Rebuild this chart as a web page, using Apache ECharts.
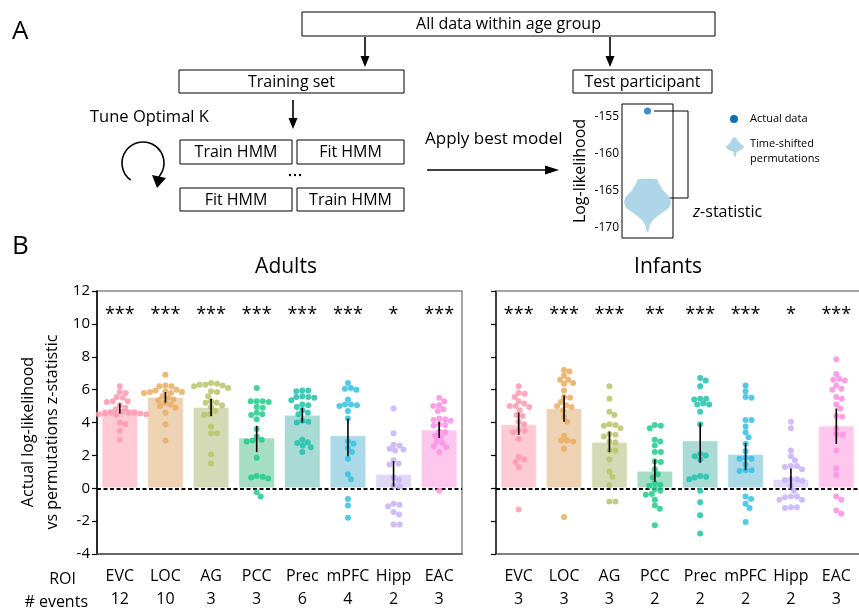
<!DOCTYPE html>
<html>
<head>
<meta charset="utf-8">
<script src="https://cdn.jsdelivr.net/npm/echarts@6/dist/echarts.min.js"></script>
<style>html,body{margin:0;padding:0;background:#fff}#c{width:859px;height:611px}</style>
</head>
<body>
<div id="c"></div>
<script>
// ---------------- DATA ----------------
const rois = ['EVC', 'LOC', 'AG', 'PCC', 'Prec', 'mPFC', 'Hipp', 'EAC'];
const eventsAdults = [12, 10, 3, 3, 6, 4, 2, 3];
const eventsInfants = [3, 3, 3, 2, 2, 2, 2, 3];
const starsAdults = ['***', '***', '***', '***', '***', '***', '*', '***'];
const starsInfants = ['***', '***', '***', '**', '***', '***', '*', '***'];

const meanAdults = [4.85, 5.55, 4.95, 3.08, 4.47, 3.22, 0.86, 3.57];
const meanInfants = [3.89, 4.87, 2.81, 1.06, 2.91, 2.08, 0.56, 3.81];

const errAdults = [[4.55, 5.15], [5.2, 5.85], [4.4, 5.45], [2.2, 3.8], [4.0, 4.9], [1.95, 4.25], [0.1, 1.65], [3.05, 4.05]];
const errInfants = [[3.25, 4.6], [4.05, 5.65], [2.2, 3.45], [0.4, 1.75], [1.55, 3.95], [1.1, 2.75], [0.0, 1.2], [2.7, 4.85]];

const dotsAdults = [
  [6.2, 5.85, 5.8, 5.55, 5.5, 5.3, 5.25, 5.3, 5.05, 4.9, 4.8, 4.65, 4.6, 4.6, 4.55, 4.55, 4.5, 4.45, 4.6, 4.5, 4.0, 3.9, 3.5, 2.95],
  [6.9, 6.25, 6.2, 6.2, 6.0, 5.95, 5.9, 5.85, 5.85, 5.8, 5.8, 5.6, 5.5, 5.4, 5.35, 5.2, 5.1, 5.0, 4.9, 4.6, 3.9, 2.9],
  [6.4, 6.35, 6.3, 6.25, 6.3, 6.2, 6.1, 5.9, 5.85, 5.6, 5.3, 5.2, 5.2, 5.05, 4.95, 4.7, 4.5, 4.45, 3.75, 3.35, 3.35, 2.05, 1.5],
  [6.1, 5.3, 5.3, 5.25, 5.3, 4.95, 4.9, 4.6, 4.5, 4.45, 4.2, 3.6, 3.15, 2.95, 2.9, 2.85, 1.85, 0.65, 0.6, 0.7, 0.75, -0.25, -0.5],
  [5.95, 5.95, 5.9, 5.6, 5.55, 5.55, 5.5, 5.35, 5.1, 5.05, 4.95, 4.75, 4.6, 4.5, 4.1, 4.05, 4.0, 2.95, 2.8, 2.75, 2.6, 2.5, 2.2],
  [6.4, 6.1, 6.05, 6.0, 5.4, 5.1, 5.1, 5.05, 5.0, 4.7, 4.25, 2.85, 2.7, 2.45, 2.2, 1.8, 0.85, 0.55, -0.65, -1.05, -1.8],
  [4.85, 3.35, 2.65, 2.6, 2.4, 2.35, 2.3, 1.7, 1.5, 1.45, 0.65, 0.5, 0.15, 0.1, -0.95, -1.0, -1.1, -1.45, -1.6, -2.2, -2.2],
  [5.5, 5.3, 5.05, 5.0, 4.8, 4.7, 4.25, 4.2, 4.15, 4.1, 3.9, 3.85, 3.8, 3.45, 3.4, 3.2, 3.1, 2.85, 2.75, 2.55, 2.5, 2.2, -0.15]
];
const dotsInfants = [
  [6.2, 5.8, 5.75, 5.55, 5.3, 5.15, 5.0, 5.0, 4.95, 4.75, 4.45, 4.4, 4.05, 3.9, 3.55, 3.5, 3.4, 3.0, 1.9, 1.75, 1.6, 1.3, -1.3],
  [7.2, 7.1, 6.85, 6.6, 6.6, 6.4, 6.35, 5.95, 5.55, 5.5, 5.25, 5.05, 5.0, 4.95, 4.75, 4.35, 4.05, 3.2, 2.9, 2.85, 2.9, 2.4, -1.75],
  [6.2, 5.45, 4.65, 4.45, 3.9, 3.85, 3.8, 3.65, 3.3, 3.25, 3.15, 2.85, 2.8, 2.3, 2.3, 1.75, 1.0, 0.7, 0.2, -0.8, -0.8],
  [3.85, 3.8, 3.65, 2.95, 2.85, 2.6, 2.2, 2.2, 1.65, 1.6, 1.15, 0.85, 0.65, 0.3, 0.2, 0.15, -0.05, -0.15, -0.35, -0.4, -0.7, -1.05, -1.25, -2.25],
  [6.7, 6.55, 6.2, 5.45, 5.45, 5.4, 5.15, 5.1, 5.1, 4.65, 3.9, 2.1, 2.0, 1.95, 1.75, 0.75, 0.7, 0.65, 0.55, -0.15, -0.85, -1.65, -2.75],
  [6.25, 5.9, 5.55, 5.5, 4.15, 4.15, 3.75, 3.4, 3.1, 2.7, 2.25, 1.85, 1.8, 1.8, 1.45, 1.1, 1.1, 1.05, -0.5, -0.65, -0.95, -1.2, -2.05],
  [4.05, 3.65, 2.3, 1.95, 1.7, 1.35, 1.35, 1.3, 1.15, 0.55, 0.55, 0.5, 0.45, 0.15, -0.15, -0.5, -0.5, -0.55, -0.7, -0.7, -1.15, -1.15, -1.2],
  [7.85, 6.95, 6.65, 6.6, 6.55, 6.25, 6.05, 6.0, 5.55, 5.45, 5.1, 4.85, 4.4, 4.35, 3.65, 3.3, 3.25, 2.3, 1.2, 0.8, -0.5, -0.7, -1.35, -1.55]
];

// Panel A violin (test participant)
const violinLL = [-163.42, -163.78, -164.3, -164.86, -165.4, -165.99, -166.66, -167.34, -168.01, -168.47, -168.92, -169.59, -170.5];
const violinDensity = [0.37, 0.42, 0.5, 0.6, 0.75, 0.88, 0.91, 0.82, 0.55, 0.37, 0.22, 0.09, 0.03];
const actualLL = -154.2;
const llTicks = [-155, -160, -165, -170];

// ---------------- STYLE ----------------
const barColors = ['#FFCAD4', '#EDD3B4', '#D4DAB6', '#A5DDC5', '#AADAD6', '#ABD9E8', '#E0D7F7', '#FFC7EE'];
const dotColors = ['#FF99AF', '#EAAC60', '#B8C46A', '#1FCB8B', '#1FC2AD', '#33C1E1', '#C6B1F7', '#FF8FE3'];
const FONT = '"Open Sans", sans-serif';

const chart = echarts.init(document.getElementById('c'), null, {renderer: 'canvas'});

function swarm(dots) {
  return function (params, api) {
    const i = api.value(0);
    const vals = dots[i];
    const cx = api.coord([i, 0])[0];
    const ys = vals.map(v => api.coord([i, v])[1]).sort((a, b) => a - b);
    const d = 5.7, r = 3.0;
    const placed = [];
    const kids = [];
    ys.forEach(y => {
      let off = 0;
      for (let k = 0; k < 400; k++) {
        const cand = k === 0 ? 0 : (k % 2 ? 1 : -1) * Math.ceil(k / 2) * 0.5;
        let ok = true;
        for (const p of placed) {
          const dx = p[0] - cand, dy = p[1] - y;
          if (dx * dx + dy * dy < d * d - 0.01) { ok = false; break; }
        }
        if (ok) { off = cand; break; }
      }
      placed.push([off, y]);
      kids.push({type: 'circle', shape: {cx: cx + off, cy: y, r: r},
        style: {fill: dotColors[i], opacity: 0.85}});
    });
    return {type: 'group', children: kids};
  };
}
function errRender(errs) {
  return function (params, api) {
    const i = api.value(0);
    const a = api.coord([i, errs[i][0]]);
    const b = api.coord([i, errs[i][1]]);
    return {type: 'line', shape: {x1: a[0], y1: a[1], x2: b[0], y2: b[1]},
      style: {stroke: '#000', lineWidth: 1.6}};
  };
}
function starRender(stars) {
  return function (params, api) {
    const i = api.value(0);
    const p = api.coord([i, 10.55]);
    return {type: 'text', x: p[0], y: p[1],
      style: {text: stars[i], font: '18px ' + FONT, fill: '#000', align: 'center', verticalAlign: 'middle'}};
  };
}
function violinRender(params, api) {
  const right = violinLL.map((y, k) => api.coord([violinDensity[k], y]));
  const left = violinLL.map((y, k) => api.coord([-violinDensity[k], y])).reverse();
  return {type: 'polygon', shape: {points: right.concat(left), smooth: 0.25},
    style: {fill: '#AED6E8'}};
}

const idx = rois.map((_, i) => i);

function panelSeries(p, means, dots, errs, stars) {
  return [
    {type: 'bar', xAxisIndex: p, yAxisIndex: p, barWidth: '80%', z: 2,
      data: means.map((v, i) => ({value: v, itemStyle: {color: barColors[i], borderColor: 'rgba(255,255,255,0.5)', borderWidth: 1}})),
      markLine: {silent: true, symbol: ['none', 'none'], label: {show: false},
        lineStyle: {type: [4, 2.5], color: '#000', width: 2}, data: [{yAxis: 0}], z: 3}},
    {type: 'custom', xAxisIndex: p, yAxisIndex: p, z: 4, renderItem: swarm(dots), data: idx.map(i => [i])},
    {type: 'custom', xAxisIndex: p, yAxisIndex: p, z: 5, renderItem: errRender(errs), data: idx.map(i => [i])},
    {type: 'custom', xAxisIndex: p, yAxisIndex: p, z: 5, renderItem: starRender(stars), data: idx.map(i => [i])}
  ];
}

function xCat(p, events) {
  return {type: 'category', gridIndex: p, data: rois,
    axisLine: {onZero: false, lineStyle: {color: '#555', width: 1.5}},
    axisTick: {show: false},
    axisLabel: {interval: 0, margin: 11, fontSize: 16, fontFamily: FONT, color: '#000', lineHeight: 23,
      formatter: (v, i) => v + '\n' + events[i]}};
}
function yVal(p, showLabels) {
  return {type: 'value', gridIndex: p, min: -4, max: 12, interval: 2,
    axisLine: {show: true, lineStyle: {color: '#000', width: 1.5}},
    axisTick: {show: true, length: 5, lineStyle: {color: '#000', width: 1.2}},
    axisLabel: {show: showLabels, fontSize: 15, fontFamily: FONT, color: '#000', margin: 7},
    splitLine: {show: false}};
}

// diagram helpers
function box(x, y, w, h, text) {
  return [
    {type: 'rect', shape: {x: x, y: y, width: w, height: h}, style: {fill: '#fff', stroke: '#000', lineWidth: 1}},
    {type: 'text', x: x + w / 2, y: y + h / 2 + 0.5, style: {text: text, font: '16px ' + FONT, fill: '#000', align: 'center', verticalAlign: 'middle'}}
  ];
}
function downArrow(x, y1, y2) {
  return [
    {type: 'line', shape: {x1: x, y1: y1, x2: x, y2: y2 - 8}, style: {stroke: '#000', lineWidth: 1.6}},
    {type: 'polygon', shape: {points: [[x - 4.5, y2 - 11], [x + 4.5, y2 - 11], [x, y2]]}, style: {fill: '#000'}}
  ];
}
function txt(x, y, s, size, align, extra) {
  return Object.assign({type: 'text', x: x, y: y,
    style: {text: s, font: size + 'px ' + FONT, fill: '#000', align: align || 'left', verticalAlign: 'middle'}}, extra || {});
}

const graphics = [].concat(
  txt(12, 32, 'A', 26),
  txt(12, 247, 'B', 26),
  box(302, 12, 413, 24, 'All data within age group'),
  downArrow(365, 37, 67),
  downArrow(610, 37, 67),
  box(179, 70, 225, 23, 'Training set'),
  box(573, 70, 139, 23, 'Test participant'),
  downArrow(293, 100, 129),
  txt(90, 117, 'Tune Optimal K', 16.5),
  box(180, 140, 112, 24, 'Train HMM'),
  box(297, 140, 107, 24, 'Fit HMM'),
  box(180, 188, 112, 23, 'Fit HMM'),
  box(297, 188, 107, 23, 'Train HMM'),
  [{type: 'circle', shape: {cx: 290, cy: 175, r: 1.2}, style: {fill: '#000'}},
   {type: 'circle', shape: {cx: 295, cy: 175, r: 1.2}, style: {fill: '#000'}},
   {type: 'circle', shape: {cx: 300, cy: 175, r: 1.2}, style: {fill: '#000'}}],
  [{type: 'arc', shape: {cx: 143, cy: 163, r: 21, startAngle: 2.2, endAngle: 0.78 + Math.PI * 2, clockwise: true},
    style: {stroke: '#000', lineWidth: 1.6, fill: null}},
   {type: 'polygon', shape: {points: [[152, 175], [166, 178], [157, 188]]}, style: {fill: '#000'}}],
  txt(425, 139, 'Apply best model', 17),
  [{type: 'line', shape: {x1: 427, y1: 170, x2: 548, y2: 170}, style: {stroke: '#000', lineWidth: 1.6}},
   {type: 'polygon', shape: {points: [[545, 165.5], [559, 170], [545, 174.5]]}, style: {fill: '#000'}}],
  [{type: 'polyline', shape: {points: [[654, 111], [688, 111], [688, 198], [668, 198]]}, style: {stroke: '#000', lineWidth: 1, fill: null}}],
  [{type: 'text', x: 693, y: 212, style: {text: '{i|z}-statistic', font: '16px ' + FONT, fill: '#000', verticalAlign: 'middle',
    rich: {i: {fontStyle: 'italic', fontSize: 16, fontFamily: FONT}}}}],
  [{type: 'circle', shape: {cx: 734, cy: 119, r: 4}, style: {fill: '#0B72B5'}}],
  txt(750, 119, 'Actual data', 11),
  [{type: 'polygon', shape: {smooth: 0.4, points: [[731, 141], [733, 138], [736, 138], [738, 141], [741, 144], [744, 147], [741, 150], [737, 152], [735.5, 157], [734.5, 157], [733, 152], [729, 150], [726, 147], [729, 144]]}, style: {fill: '#AED6E8'}}],
  txt(750, 144, 'Time-shifted', 11),
  txt(750, 159, 'permutations', 11),
  txt(286, 267, 'Adults', 21, 'center'),
  txt(668, 267, 'Infants', 21, 'center'),
  [{type: 'text', x: 40, y: 432, rotation: Math.PI / 2,
    style: {text: 'Actual log-likelihood\nvs permutations z-statistic', font: '16px ' + FONT, fill: '#000',
      align: 'center', verticalAlign: 'middle', lineHeight: 24}}],
  txt(76, 579, 'ROI', 16, 'right'),
  txt(88, 602, '# events', 16, 'right')
);

const option = {
  animation: false,
  textStyle: {fontFamily: FONT},
  grid: [
    {left: 97, top: 291, width: 365, height: 266, show: true, borderColor: '#888', borderWidth: 1.5, backgroundColor: 'transparent'},
    {left: 496, top: 291, width: 365, height: 266, show: false},
    {left: 622, top: 104, width: 51, height: 134, show: true, borderColor: '#000', borderWidth: 1, backgroundColor: 'transparent'}
  ],
  xAxis: [
    xCat(0, eventsAdults),
    xCat(1, eventsInfants),
    {type: 'value', gridIndex: 2, min: -1, max: 1, show: false},
    {type: 'category', gridIndex: 1, position: 'top', data: rois,
      axisLine: {onZero: false, lineStyle: {color: '#888', width: 1.5}},
      axisTick: {show: false}, axisLabel: {show: false}}
  ],
  yAxis: [
    yVal(0, true),
    yVal(1, false),
    {type: 'value', gridIndex: 2, min: -171.35, max: -153.25,
      axisLine: {show: false}, axisTick: {show: false}, splitLine: {show: false},
      axisLabel: {customValues: llTicks, fontSize: 12, fontFamily: FONT, color: '#000', margin: 3},
      name: 'Log-likelihood', nameLocation: 'middle', nameGap: 34,
      nameTextStyle: {fontSize: 16, fontFamily: FONT, color: '#000'}}
  ],
  series: [].concat(
    panelSeries(0, meanAdults, dotsAdults, errAdults, starsAdults),
    panelSeries(1, meanInfants, dotsInfants, errInfants, starsInfants),
    [{type: 'custom', xAxisIndex: 2, yAxisIndex: 2, renderItem: violinRender, data: [[0]], z: 2},
     {type: 'scatter', xAxisIndex: 2, yAxisIndex: 2, symbolSize: 7, itemStyle: {color: '#0B72B5'}, data: [[0, actualLL]], z: 3}]
  ),
  graphic: {elements: graphics}
};
chart.setOption(option);
</script>
</body>
</html>
